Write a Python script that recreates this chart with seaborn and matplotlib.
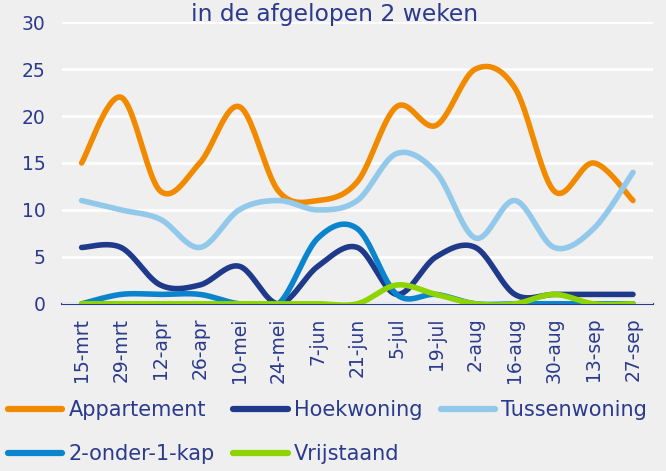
import numpy as np
import pandas as pd
import matplotlib.pyplot as plt
import seaborn as sns
from matplotlib.lines import Line2D

# -----------------------------
# Data
# -----------------------------
dates = ['15-mrt', '29-mrt', '12-apr', '26-apr', '10-mei', '24-mei', '7-jun', '21-jun',
         '5-jul', '19-jul', '2-aug', '16-aug', '30-aug', '13-sep', '27-sep']

appartement = [15, 22, 12, 15, 21, 12, 11, 13, 21, 19, 25, 23, 12, 15, 11]
hoekwoning = [6, 6, 2, 2, 4, 0, 4, 6, 1, 5, 6, 1, 1, 1, 1]
tussenwoning = [11, 10, 9, 6, 10, 11, 10, 11, 16, 14, 7, 11, 6, 8, 14]
twee_onder_een_kap = [0, 1, 1, 1, 0, 0, 7, 8, 1, 1, 0, 0, 0, 0, 0]
vrijstaand = [0, 0, 0, 0, 0, 0, 0, 0, 2, 1, 0, 0, 1, 0, 0]

series = {
    'Appartement': appartement,
    'Hoekwoning': hoekwoning,
    'Tussenwoning': tussenwoning,
    '2-onder-1-kap': twee_onder_een_kap,
    'Vrijstaand': vrijstaand,
}
colors = {
    'Appartement': '#F28A00',
    'Hoekwoning': '#1F3A8A',
    'Tussenwoning': '#92C8EA',
    '2-onder-1-kap': '#0A84CC',
    'Vrijstaand': '#8DD400',
}
text_color = '#2B3A8C'
bg = '#EFEFEF'


# smoothed line like the spreadsheet one (bezier through the points)
def smooth(vals, n=24):
    y = np.asarray(vals, dtype=float)
    x = np.arange(len(y), dtype=float)
    xs, ys = [], []
    for i in range(len(y) - 1):
        i0, i3 = max(i - 1, 0), min(i + 2, len(y) - 1)
        px = [x[i], x[i] + (x[i + 1] - x[i0]) / 6, x[i + 1] - (x[i3] - x[i]) / 6, x[i + 1]]
        py = [y[i], y[i] + (y[i + 1] - y[i0]) / 6, y[i + 1] - (y[i3] - y[i]) / 6, y[i + 1]]
        t = np.linspace(0, 1, n, endpoint=(i == len(y) - 2))
        b = [(1 - t) ** 3, 3 * (1 - t) ** 2 * t, 3 * (1 - t) * t ** 2, t ** 3]
        xs.extend(sum(bk * pk for bk, pk in zip(b, px)))
        ys.extend(sum(bk * pk for bk, pk in zip(b, py)))
    return xs, ys


rows = []
for name, vals in series.items():
    xs, ys = smooth(vals)
    rows.append(pd.DataFrame({'x': xs, 'y': ys, 'type': name}))
df = pd.concat(rows, ignore_index=True)

# -----------------------------
# Plot
# -----------------------------
sns.set_style('white', {'axes.facecolor': bg, 'figure.facecolor': bg})
plt.rcParams['font.family'] = ['DejaVu Sans']

fig, ax = plt.subplots(figsize=(6.66, 4.71), dpi=100)
fig.subplots_adjust(left=0.093, right=0.98, top=0.953, bottom=0.355)

ax.yaxis.grid(True, color='white', linewidth=2)
ax.set_axisbelow(True)

sns.lineplot(data=df, x='x', y='y', hue='type', palette=colors, linewidth=4,
             sort=False, estimator=None, legend=False, ax=ax)
for ln in ax.lines:
    ln.set_solid_capstyle('round')

ax.set_xlim(-0.5, len(dates) - 0.5)
ax.set_ylim(0, 30)
ax.set_yticks(range(0, 31, 5))
ax.set_xticks(range(len(dates)))
ax.set_xticklabels(dates, rotation=90)
ax.set_xticks(np.arange(-0.5, len(dates)), minor=True)
ax.tick_params(axis='x', which='major', length=0, pad=10, labelsize=13.5, labelcolor=text_color)
ax.tick_params(axis='x', which='minor', length=5, width=1.5, color=text_color, direction='out')
ax.tick_params(axis='y', length=0, pad=12, labelsize=13.5, labelcolor=text_color)
ax.set_xlabel('')
ax.set_ylabel('')

for s in ['left', 'right', 'top']:
    ax.spines[s].set_visible(False)
ax.spines['bottom'].set_color(text_color)
ax.spines['bottom'].set_linewidth(1.5)
ax.spines['bottom'].set_zorder(0.5)

fig.text(0.503, 1 - 15 / 471, 'in de afgelopen 2 weken', ha='center', va='center',
         fontsize=16.8, color=text_color)

# legend filled row by row: A H T / 2 V
order = ['Appartement', '2-onder-1-kap', 'Hoekwoning', 'Vrijstaand', 'Tussenwoning']
handles = [Line2D([], [], color=colors[n], linewidth=4.5, solid_capstyle='round') for n in order]
fig.legend(handles, order, ncol=3, loc='upper left', bbox_to_anchor=(0.012, 0.15),
           frameon=False, fontsize=15, labelcolor=text_color, handlelength=2.6,
           handletextpad=0.3, columnspacing=0.9, labelspacing=1.15, borderaxespad=0,
           borderpad=0)

plt.savefig('out.png', dpi=100, facecolor=bg)
